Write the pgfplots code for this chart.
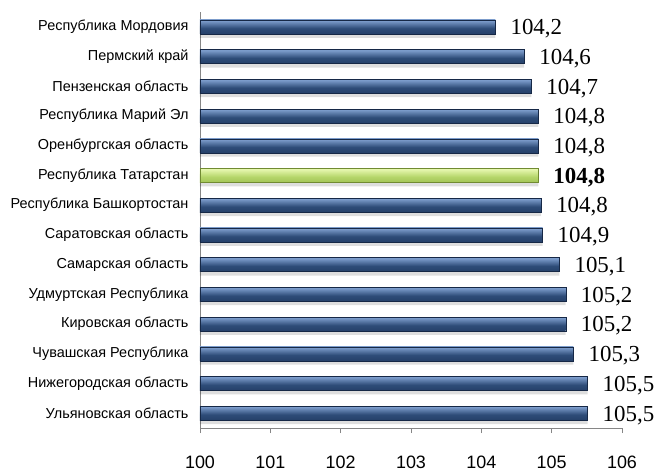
\documentclass[border=0pt]{standalone}
\usepackage{fontspec}
\setmainfont{Liberation Sans}
\newfontfamily\valfont{Liberation Serif}
\usepackage{pgfplots}
\pgfplotsset{compat=1.18}
\definecolor{axgray}{HTML}{868686}
\definecolor{nD}{HTML}{1B3257}
\definecolor{nM}{HTML}{2E4C78}
\definecolor{nL}{HTML}{7C9CCB}
\definecolor{nT}{HTML}{2A4670}
\definecolor{gD}{HTML}{8DAE3F}
\definecolor{gM}{HTML}{B5D66A}
\definecolor{gL}{HTML}{E6F7AE}
\definecolor{gT}{HTML}{98B955}
\pgfdeclareverticalshading{bluebar}{100bp}{color(0bp)=(nD); color(45bp)=(nM); color(72bp)=(nL); color(86bp)=(nL); color(100bp)=(nT)}
\pgfdeclareverticalshading{greenbar}{100bp}{color(0bp)=(gD); color(45bp)=(gM); color(72bp)=(gL); color(86bp)=(gL); color(100bp)=(gT)}
\pgfplotsset{
  bluebar/.style={draw=nD!80!black, line width=0.3pt, shading=bluebar,
    nodes near coords, nodes near coords style={anchor=west, inner sep=0pt, xshift=15bp, yshift=-2bp, font=\valfont\fontsize{23}{23}\selectfont, text=black}},
  greenbar/.style={draw=gD!80!black, line width=0.3pt, shading=greenbar,
    nodes near coords, nodes near coords style={anchor=west, inner sep=0pt, xshift=15bp, yshift=-2bp, font=\valfont\bfseries\fontsize{23}{23}\selectfont, text=black}},
}
\begin{document}
\begin{tikzpicture}
\begin{axis}[
  scale only axis,
  width=422bp, height=416bp,
  xmin=100, xmax=106,
  ymin=-0.5, ymax=13.5,
  xbar, bar width=0.47, bar shift=0pt,
  axis x line*=bottom, axis y line*=left,
  axis line style={axgray, line width=0.8pt},
  xtick={100,...,106},
  ytick={0,...,13},
  yticklabels={Ульяновская область, Нижегородская область, Чувашская Республика\hspace{3bp}, Кировская область, Удмуртская Республика, Самарская область, Саратовская область, Республика Башкортостан, Республика Татарстан, Оренбургская область, Республика Марий Эл, Пензенская область, Пермский край, Республика Мордовия},
  minor ytick={-0.5,0.5,...,13.5},
  tick align=outside,
  major tick length=5bp,
  ytick style={draw=none},
  minor tick style={axgray, line width=0.8pt},
  minor tick length=5bp,
  xtick style={axgray, line width=0.8pt},
  /pgf/number format/assume math mode=true,
  xticklabel style={font=\fontsize{18}{18}\selectfont, yshift=-19bp},
  yticklabel style={font=\fontsize{14.5}{15}\selectfont, xshift=-3bp},
  clip=false,
  point meta=explicit symbolic,
]
\addplot[draw=none, fill=black, fill opacity=0.13, bar shift=-5bp, bar width=0.4, forget plot] coordinates {
  (105.51,0) (105.51,1) (105.31,2) (105.20,3) (105.20,4) (105.11,5) (104.87,6)
  (104.85,7) (104.81,8) (104.81,9) (104.81,10) (104.71,11) (104.61,12) (104.20,13)};
\addplot[bluebar] coordinates {(105.51,0) [105,5]};
\addplot[bluebar] coordinates {(105.51,1) [105,5]};
\addplot[bluebar] coordinates {(105.31,2) [105,3]};
\addplot[bluebar] coordinates {(105.20,3) [105,2]};
\addplot[bluebar] coordinates {(105.20,4) [105,2]};
\addplot[bluebar] coordinates {(105.11,5) [105,1]};
\addplot[bluebar] coordinates {(104.87,6) [104,9]};
\addplot[bluebar] coordinates {(104.85,7) [104,8]};
\addplot[greenbar] coordinates {(104.81,8) [104,8]};
\addplot[bluebar] coordinates {(104.81,9) [104,8]};
\addplot[bluebar] coordinates {(104.81,10) [104,8]};
\addplot[bluebar] coordinates {(104.71,11) [104,7]};
\addplot[bluebar] coordinates {(104.61,12) [104,6]};
\addplot[bluebar] coordinates {(104.20,13) [104,2]};
\coordinate (bl) at (rel axis cs:0,0);
\coordinate (tr) at (rel axis cs:1,1);
\end{axis}
\pgfresetboundingbox
\path ([xshift=-200bp,yshift=-44bp]bl) rectangle ([xshift=36bp,yshift=12bp]tr);
\end{tikzpicture}
\end{document}
